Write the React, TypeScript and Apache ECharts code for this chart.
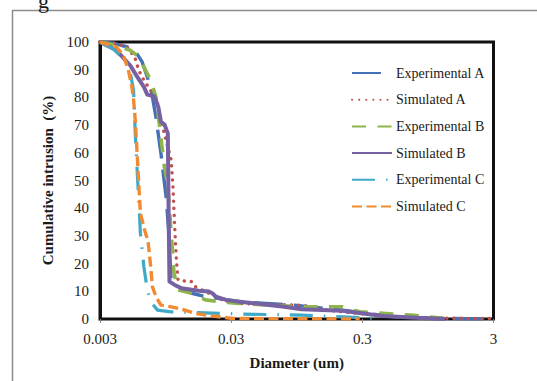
import React, { useEffect, useRef } from "react";
import * as echarts from "echarts";

// Diameter (um) / cumulative intrusion (%) pairs
const expA: [number, number][] = [
  [0.003, 100], [0.00377, 99.6], [0.00541, 97.6], [0.00629, 92.8], [0.0073, 83.8],
  [0.008, 73.0], [0.00875, 59.7], [0.00957, 44.1], [0.01005, 30.9], [0.01047, 12.9],
  [0.0118, 11.7], [0.01503, 9.3], [0.0191, 8.1], [0.0349, 6.25], [0.0912, 5.0],
  [0.212, 3.2], [0.521, 0.8], [1.28, 0.2], [2.98, 0],
];
const simA: [number, number][] = [
  [0.003, 100], [0.00412, 99.4], [0.00494, 97.8], [0.00557, 94.0], [0.00592, 89.8],
  [0.00648, 86.2], [0.0073, 82.6], [0.00824, 77.8], [0.00875, 71.8], [0.00957, 64.5],
  [0.01047, 57.3], [0.0108, 47.7], [0.01113, 33.3], [0.01147, 21.3], [0.0118, 14.1],
  [0.01333, 13.7], [0.01503, 13.5], [0.01596, 11.7], [0.0191, 9.9], [0.0274, 6.25],
  [0.0349, 5.6], [0.0636, 5.2], [0.103, 5.0], [0.157, 3.2], [0.286, 2.0],
  [0.521, 0.8], [0.951, 0.3], [2.98, 0.2],
];
const expB: [number, number][] = [
  [0.003, 100], [0.004, 98.8], [0.00509, 97.0], [0.00574, 95.2], [0.00648, 91.0],
  [0.0073, 86.2], [0.008, 80.2], [0.00849, 70.6], [0.00929, 54.9], [0.00987, 47.7],
  [0.01047, 30.9], [0.011, 16.5], [0.0118, 10.5], [0.01503, 9.3], [0.0191, 6.9],
  [0.0243, 6.25], [0.0349, 5.6], [0.103, 4.4], [0.212, 4.4], [0.286, 2.6],
  [0.705, 1.4], [1.28, 0.2],
];
const simB: [number, number][] = [
  [0.003, 100], [0.004, 97.0], [0.00509, 91.6], [0.00574, 87.6], [0.00648, 83.8],
  [0.00688, 81.0], [0.00776, 80.4], [0.00834, 76.6], [0.00875, 71.2], [0.00929, 70.3],
  [0.00987, 67.0], [0.00998, 42.9], [0.01016, 13.5], [0.01113, 12.3], [0.01255, 11.1],
  [0.01695, 10.2], [0.0203, 9.9], [0.02155, 9.3], [0.0229, 8.1], [0.0274, 6.9],
  [0.0349, 6.25], [0.05, 5.4], [0.0762, 4.4], [0.103, 3.5], [0.212, 3.0],
  [0.303, 2.0], [0.435, 1.1], [0.705, 0.5], [1.28, 0],
];
const expC: [number, number][] = [
  [0.003, 100], [0.00377, 97.6], [0.00465, 93.4], [0.00509, 89.2], [0.00541, 82.6],
  [0.00557, 67.0], [0.00574, 54.9], [0.00592, 42.9], [0.0061, 30.9], [0.00648, 18.9],
  [0.00688, 10.5], [0.0073, 6.25], [0.00824, 3.2], [0.01047, 2.6], [0.01503, 2.4],
  [0.0349, 1.8], [0.103, 1.4], [0.212, 0.8], [0.386, 0.2],
];
const simC: [number, number][] = [
  [0.003, 100], [0.004, 98.2], [0.00452, 95.2], [0.00494, 89.8], [0.00525, 83.8],
  [0.00541, 79.0], [0.00557, 71.8], [0.00574, 61.0], [0.00592, 48.9], [0.0061, 38.1],
  [0.00667, 30.9], [0.00696, 28.5], [0.0073, 18.9], [0.00753, 11.7], [0.008, 8.1],
  [0.00875, 5.0], [0.01047, 4.4], [0.01333, 3.2], [0.01596, 2.0], [0.02155, 1.1],
  [0.0309, 0.2], [0.286, 0],
];

const seriesNames = [
  "Experimental A", "Simulated A", "Experimental B",
  "Simulated B", "Experimental C", "Simulated C",
];
const xTickLabels = ["0.003", "0.03", "0.3", "3"];
const xBase = 0.003;

const FONT = "Liberation Serif";

const toLog = (arr: [number, number][]) =>
  arr.map(([d, v]) => [Math.log10(d / xBase), v]);

export default function App() {
  const ref = useRef<HTMLDivElement>(null);
  useEffect(() => {
    if (!ref.current) return;
    const chart = echarts.init(ref.current, undefined, { renderer: "svg" });
    const mk = (
      name: string,
      data: [number, number][],
      color: string,
      width: number,
      type: any,
      cap: "butt" | "round" = "butt"
    ) => ({
      name,
      type: "line",
      data: toLog(data),
      symbol: "none",
      z: 3,
      lineStyle: { color, width, type, cap, join: "round" },
      itemStyle: { color },
    });
    chart.setOption({
      animation: false,
      backgroundColor: "#fff",
      textStyle: { fontFamily: FONT },
      grid: {
        left: 100, right: 43.5, top: 42, bottom: 62,
        show: true, borderColor: "#111", borderWidth: 3,
      },
      legend: {
        orient: "vertical",
        left: 351,
        top: 66,
        padding: 0,
        itemWidth: 40,
        itemHeight: 14,
        itemGap: 12.7,
        data: seriesNames,
        itemStyle: { opacity: 0 },
        textStyle: { fontFamily: FONT, fontSize: 14, color: "#1a1a1a", padding: [0, 0, 0, -1] },
      },
      xAxis: {
        type: "value",
        min: 0, max: 3, interval: 1,
        name: "Diameter (um)",
        nameLocation: "middle",
        nameGap: 36,
        nameTextStyle: { fontFamily: FONT, fontSize: 15, fontWeight: "bold", color: "#1a1a1a" },
        axisLine: { show: true, lineStyle: { color: "#111", width: 2 } },
        axisTick: { show: true, length: 4, lineStyle: { color: "#888" } },
        axisLabel: {
          fontFamily: FONT, fontSize: 15, color: "#1a1a1a", margin: 12,
          formatter: (v: number) => xTickLabels[Math.round(v)] ?? "",
        },
        splitLine: { show: false },
      },
      yAxis: {
        type: "value",
        min: 0, max: 100, interval: 10,
        name: "Cumulative intrusion  (%)",
        nameLocation: "middle",
        nameGap: 45,
        nameRotate: 90,
        nameTextStyle: { fontFamily: FONT, fontSize: 15, fontWeight: "bold", color: "#1a1a1a" },
        axisLine: { show: true, lineStyle: { color: "#111", width: 3 } },
        axisTick: { show: false },
        axisLabel: { fontFamily: FONT, fontSize: 15, color: "#1a1a1a", margin: 11 },
        splitLine: { show: false },
      },
      graphic: [
        {
          type: "rect",
          silent: true,
          shape: { x: 12.5, y: 10.5, width: 600, height: 500 },
          style: { fill: "none", stroke: "#8c8c8c", lineWidth: 1.5 },
          z: -10,
        },
        {
          type: "text",
          silent: true,
          x: 38, y: -11,
          style: {
            text: "g", fontFamily: FONT, fontSize: 22, fill: "#1a1a1a",
            textVerticalAlign: "alphabetic",
          },
        },
      ],
      series: [
        mk(seriesNames[0], expA, "#4470B8", 3.4, [29, 11]),
        mk(seriesNames[1], simA, "#C0504D", 3.4, [0.1, 7], "round"),
        mk(seriesNames[2], expB, "#8DB54C", 3.6, [14, 11.5]),
        mk(seriesNames[3], simB, "#7661A2", 4, "solid"),
        mk(seriesNames[4], expC, "#3FA9C8", 3.2, [23, 11, 1.5, 11]),
        mk(seriesNames[5], simC, "#F08A33", 3.4, [10, 4.5]),
      ],
    });
    return () => chart.dispose();
  }, []);
  return (
    <div
      ref={ref}
      style={{ position: "fixed", left: 0, top: 0, width: 537, height: 381 }}
    />
  );
}
